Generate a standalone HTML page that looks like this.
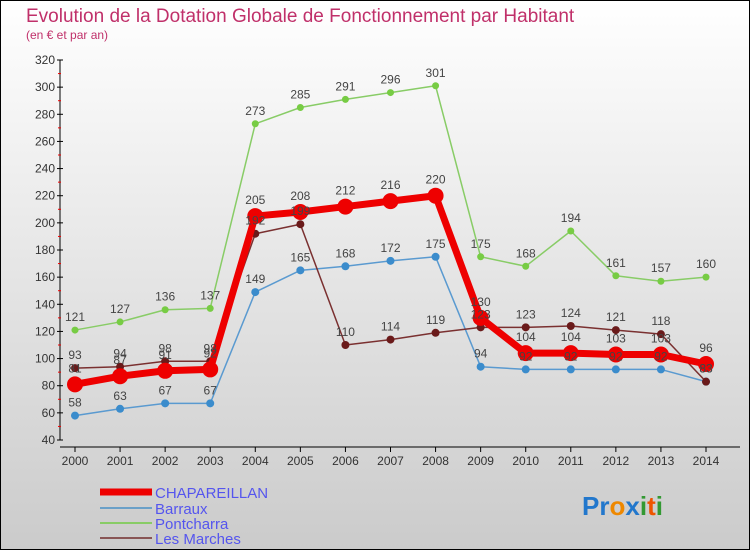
<!DOCTYPE html>
<html><head><meta charset="utf-8"><style>
html,body{margin:0;padding:0}
body{width:750px;height:550px;overflow:hidden;font-family:"Liberation Sans","DejaVu Sans",sans-serif}
</style></head><body>
<svg id="chart" width="750" height="550" xmlns="http://www.w3.org/2000/svg">
<defs><linearGradient id="bg" x1="0" y1="0" x2="0" y2="1"><stop offset="0" stop-color="#ffffff"/><stop offset="1" stop-color="#cbcbcb"/></linearGradient></defs>
<rect x="0.5" y="0.5" width="749" height="549" fill="url(#bg)" stroke="#000"/>
<text x="26" y="22" font-size="19" fill="#c0306a">Evolution de la Dotation Globale de Fonctionnement par Habitant</text>
<text x="26" y="39" font-size="12" fill="#c0306a">(en € et par an)</text>
<g id="axes"></g><g id="series"></g><g id="labels"></g>
<g>
<line x1="100" y1="492" x2="152" y2="492" stroke="#ee0000" stroke-width="7"/>
<text x="155" y="498" font-size="15" fill="#5555ee">CHAPAREILLAN</text>
<line x1="100" y1="508" x2="152" y2="508" stroke="#6aa0c8" stroke-width="2"/>
<text x="155" y="514" font-size="15" fill="#5555ee">Barraux</text>
<line x1="100" y1="523" x2="152" y2="523" stroke="#88cc66" stroke-width="2"/>
<text x="155" y="529" font-size="15" fill="#5555ee">Pontcharra</text>
<line x1="100" y1="538" x2="152" y2="538" stroke="#885555" stroke-width="2"/>
<text x="155" y="544" font-size="15" fill="#5555ee">Les Marches</text>
</g>
<text x="582" y="515" font-size="26" font-weight="bold"><tspan fill="#2277cc">Pr</tspan><tspan fill="#ee8800">o</tspan><tspan fill="#2277cc">x</tspan><tspan fill="#339933">i</tspan><tspan fill="#ee5500">t</tspan><tspan fill="#339933">i</tspan></text>
</svg>
<script>
const years=[2000,2001,2002,2003,2004,2005,2006,2007,2008,2009,2010,2011,2012,2013,2014];
const yTicks=[40,60,80,100,120,140,160,180,200,220,240,260,280,300,320];
const chapareillan=[81,87,91,92,205,208,212,216,220,130,104,104,103,103,96];
const barraux=[58,63,67,67,149,165,168,172,175,94,92,92,92,92,83];
const pontcharra=[121,127,136,137,273,285,291,296,301,175,168,194,161,157,160];
const lesMarches=[93,94,98,98,192,199,110,114,119,123,123,124,121,118,83];
const NS="http://www.w3.org/2000/svg";
const xs=i=>75+i*(706-75)/(years.length-1);
const ys=v=>440-(v-40)*(380/280);
function mk(tag,attrs,parent){const e=document.createElementNS(NS,tag);for(const k in attrs)e.setAttribute(k,attrs[k]);parent.appendChild(e);return e;}
const ax=document.getElementById('axes');
const yl=mk('line',{x1:60,y1:60,x2:60,y2:440,stroke:'#000'},ax);


yTicks.forEach(t=>{
 mk('line',{x1:57,y1:ys(t),x2:63,y2:ys(t),stroke:'#000'},ax);
 if(t<320){mk('line',{x1:58,y1:ys(t+10),x2:61,y2:ys(t+10),stroke:'#e00'},ax);}
 const tx=mk('text',{x:55,y:ys(t)+4,'font-size':12,'text-anchor':'end',fill:'#333'},ax);tx.textContent=t;
 
 
});
const xl=mk('line',{x1:60,y1:447,x2:740,y2:447,stroke:'#000'},ax);


years.forEach((y,i)=>{
 mk('line',{x1:xs(i),y1:447,x2:xs(i),y2:452,stroke:'#000'},ax);
 const tx=mk('text',{x:xs(i),y:465,'font-size':12,'text-anchor':'middle',fill:'#333'},ax);tx.textContent=y;
 
 
});
const sg=document.getElementById('series'),lg=document.getElementById('labels');
function draw(vals,name,color,lw,r,dot,dy){
 const g=mk('g',{},sg);
 
 
 mk('polyline',{points:vals.map((v,i)=>xs(i)+','+ys(v)).join(' '),fill:'none',stroke:color,'stroke-width':lw,'stroke-linejoin':'round'},g);
 vals.forEach((v,i)=>{
  const c=mk('circle',{cx:xs(i),cy:ys(v),r:r,fill:dot},g);
  
  
  const t=mk('text',{x:xs(i),y:ys(v)-dy,'font-size':12,'text-anchor':'middle',fill:'#444'},lg);t.textContent=v;
  
  
 });
}
draw(pontcharra,'pontcharra','#88cc66',1.5,3.5,'#77cc44',9);
draw(barraux,'barraux','#5a9ad0',1.5,4,'#3b8ccc',9);
draw(lesMarches,'les-marches','#7a3030',1.5,4,'#6a1a1a',9);
draw(chapareillan,'chapareillan','#ee0000',7,8,'#ee0000',12);
</script>
</body></html>
